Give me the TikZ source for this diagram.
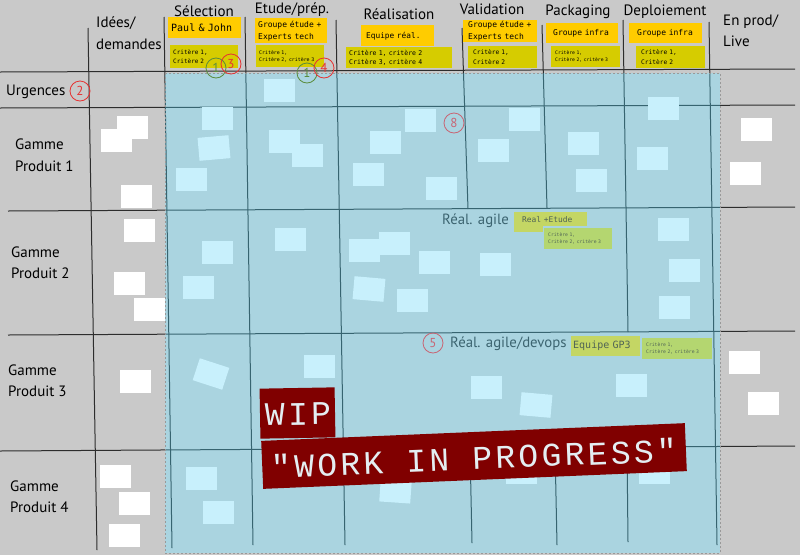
\documentclass[tikz,border=0pt]{standalone}
\usepackage{fontspec}
\setmainfont{PT Sans}
\newfontfamily\monof{DejaVu Sans Mono}
\newfontfamily\wipf[LetterSpace=10]{Liberation Mono}
\definecolor{bgc}{RGB}{201,201,201}
\definecolor{bluec}{RGB}{170,212,224}
\definecolor{cardc}{RGB}{200,240,252}
\definecolor{linec}{RGB}{45,45,45}
\definecolor{tealline}{RGB}{55,100,112}
\definecolor{orangec}{RGB}{255,204,0}
\definecolor{olivec}{RGB}{214,204,0}
\definecolor{midc}{RGB}{196,214,100}
\definecolor{critc}{RGB}{180,214,112}
\definecolor{midtext}{RGB}{80,100,85}
\definecolor{redc}{RGB}{230,50,50}
\definecolor{fadered}{RGB}{200,100,115}
\definecolor{greenc}{RGB}{90,140,60}
\definecolor{wipred}{RGB}{128,0,0}
\definecolor{wiptext}{RGB}{228,238,242}
\definecolor{tealtext}{RGB}{60,100,112}
\newcommand\gridlines{%
  \draw (0,72) -- (795,69);
  \draw (0,108) -- (795,105);
  \draw (8,211) -- (795,207);
  \draw (8,335) -- (795,331);
  \draw (0,451) -- (795,446);
  \draw (88,28) -- (97,550);
  \draw (164,17) -- (172,548);
  \draw (245,17) -- (253,545);
  \draw (336,20) -- (345,545);
  \draw (462,28) -- (468,209);
  \draw (470,449) -- (472,543);
  \draw (542,25) -- (547,208);
  \draw (555,448) -- (557,545);
  \draw (623,20) -- (628,332);
  \draw (627,447) -- (628,542);
  \draw (709,22) -- (717,545);
}
\begin{document}
\begin{tikzpicture}[x=1pt,y=-1pt,
  card/.style={fill=cardc, minimum width=31pt, minimum height=23pt, inner sep=0pt},
  wcard/.style={fill=white, minimum width=31pt, minimum height=23pt, inner sep=0pt},
  head/.style={font=\fontsize{15}{15}\selectfont, text=black, inner sep=0pt},
  side/.style={font=\fontsize{15}{21.5}\selectfont, align=left, anchor=west, inner sep=0pt, text=black},
  tag/.style={anchor=north west, inner ysep=0pt, align=left, text=black},
  num/.style={circle, draw=#1, text=#1, minimum size=20pt, inner sep=0pt, line width=0.8pt, font=\fontsize{13}{13}\selectfont},
  midlab/.style={font=\fontsize{14.8}{14.8}\selectfont, text=tealtext, anchor=west, inner sep=0pt}
]
\useasboundingbox (0,0) rectangle (800,555);
\fill[bgc] (0,0) rectangle (800,555);
% grid lines (outside)
\begin{scope}[color=linec, line width=1pt]
  \gridlines
\end{scope}
% blue WIP zone
\fill[bluec] (165,73) rectangle (720,553);
\begin{scope}
  \clip (165,73) rectangle (720,553);
  \begin{scope}[color=tealline, line width=1pt]
    \gridlines
  \end{scope}
\end{scope}
\draw[gray!80, line width=0.6pt, dash pattern=on 2pt off 2pt] (165,73) rectangle (720,553);

% column headers
\node[head] (hsel) at (204,11) {Sélection};
\node[head] (hetu) at (292,10) {Etude/prép.};
\node[head] (hrea) at (399,14) {Réalisation};
\node[head] (hval) at (492,9) {Validation};
\node[head] (hpac) at (578,12) {Packaging};
\node[head] (hdep) at (665,12) {Deploiement};
\node[side] (hide) at (96,33) {Idées/\\demandes};
\node[side] (hpro) at (723,30.5) {En prod/\\Live};
% row headers
\node[side] (rurg) at (6,92) {Urgences};
\node[side] (rg1) at (15,155) {Gamme\\Produit 1};
\node[side] (rg2) at (11,262.5) {Gamme\\Produit 2};
\node[side] (rg3) at (8,380.5) {Gamme\\Produit 3};
\node[side] (rg4) at (10,496.5) {Gamme\\Produit 4};

% header tags
\node[tag, fill=orangec, inner xsep=3pt, text width=67pt, minimum height=21pt, font=\monof\fontsize{10}{10}\selectfont] (t1) at (168,17) {\mbox{Paul \& John}};
\node[tag, fill=olivec, inner xsep=3pt, text width=62pt, minimum height=23pt, font=\monof\fontsize{6}{9.5}\selectfont] (t2) at (170,45) {Critère 1,\\Critère 2};
\node[tag, fill=orangec, inner xsep=3pt, text width=66pt, minimum height=25pt, font=\monof\fontsize{8}{12}\selectfont] (t3) at (255,18) {\mbox{Groupe étude +}\\\mbox{Experts tech}};
\node[tag, fill=olivec, inner xsep=3pt, text width=62pt, minimum height=22pt, font=\monof\fontsize{4.9}{7}\selectfont] (t4) at (256,45) {Critère 1,\\\mbox{Critère 2, critère 3}};
\node[tag, fill=orangec, inner xsep=5pt, text width=63pt, minimum height=21pt, font=\monof\fontsize{7.8}{7.8}\selectfont] (t5) at (361,25) {\mbox{Equipe réal.}};
\node[tag, fill=olivec, inner xsep=3pt, text width=100pt, minimum height=21pt, font=\monof\fontsize{6.5}{9}\selectfont] (t6) at (346,47) {\mbox{Critère 1, critère 2}\\\mbox{Critère 3, critère 4}};
\node[tag, fill=orangec, inner xsep=5pt, text width=64pt, minimum height=22pt, font=\monof\fontsize{8}{12}\selectfont] (t7) at (463,20) {\mbox{Groupe étude +}\\\mbox{Experts tech}};
\node[tag, fill=olivec, inner xsep=5pt, text width=59pt, minimum height=22pt, font=\monof\fontsize{6.2}{9.5}\selectfont] (t8) at (468,46) {Critère 1,\\Critère 2};
\node[tag, fill=orangec, inner xsep=7pt, text width=58pt, minimum height=20pt, font=\monof\fontsize{8}{8}\selectfont] (t9) at (546,23) {\mbox{Groupe infra}};
\node[tag, fill=olivec, inner xsep=4pt, text width=61pt, minimum height=21pt, font=\monof\fontsize{4.7}{7}\selectfont] (t10) at (551,46) {Critère 1,\\\mbox{Critère 2, critère 3}};
\node[tag, fill=orangec, inner xsep=8pt, text width=57pt, minimum height=20pt, font=\monof\fontsize{8}{8}\selectfont] (t11) at (629,23) {\mbox{Groupe infra}};
\node[tag, fill=olivec, inner xsep=5pt, text width=59pt, minimum height=22pt, font=\monof\fontsize{6.2}{9.5}\selectfont] (t12) at (636,46) {Critère 1,\\Critère 2};

% numbered circles
\node[num=redc] (n2) at (80,91) {2};
\node[num=greenc] (n1a) at (216,68) {1};
\node[num=redc] (n3) at (231,64) {3};
\node[num=greenc] (n1b) at (307,73) {1};
\node[num=redc] (n4) at (324,68) {4};
\node[num=fadered] (n8) at (454,123) {8};
\node[num=fadered] (n5) at (433,343) {5};

% white cards (grey zones)
\foreach \x/\y [count=\i] in {132.5/127.5, 116.5/140, 136.5/196, 139.5/230.5, 129.5/283.5, 149/309, 135.5/381.5, 115/476, 134/503.5, 124.5/535, 756.5/129.5, 745.5/173.5, 744.5/362.5, 763.5/403.5}
  \node[wcard] (w\i) at (\x,\y) {};

% light cards (WIP zone)
\foreach \x/\y/\r [count=\i] in {279.5/90/0, 663.5/108.5/0, 420/120.5/0, 524/119.5/0, 217.5/118.5/0, 214/148/5, 191.5/179.5/0, 284/141/0, 307.5/155/0, 368/174/0, 385.5/142.5/0, 441.5/188.5/0, 493.5/150.5/0, 583/143/0, 591.5/180/0, 652/158.5/0,
  217/252.5/0, 198/287/0, 290.5/239/0, 364.5/250/0, 394.5/243.5/0, 434.5/262/0, 369/289/-5, 412.5/300/0, 495.5/264/0, 673.5/229/0, 684.5/270/0, 674.5/307.5/0,
  211/374/-18, 319.5/366.5/0, 486/387.5/0, 536/405/-5, 631.5/385/0, 521/472.5/0, 654.5/472.5/0, 395.5/491/-4,
  201.5/478.5/0, 218/512.5/0}
  \node[card, rotate=\r] (c\i) at (\x,\y) {};

% swimlane labels
\node[midlab] (ra) at (442,221) {Réal. agile};
\fill[midc] (514,212) rectangle (543,232);
\node[tag, fill=midc, text=midtext, inner xsep=8pt, text width=57pt, minimum height=14pt, font=\monof\fontsize{7.9}{7.9}\selectfont] (t13) at (514,212) {\mbox{Real +Etude}};
\node[tag, fill=critc, text=midtext, inner xsep=4pt, text width=60pt, minimum height=21pt, font=\monof\fontsize{4.7}{7}\selectfont] (t14) at (544,228) {Critère 1,\\\mbox{Critère 2, critère 3}};
\node[midlab] (rd) at (450,344) {Réal. agile/devops};
\node[tag, fill=midc, text=midtext, inner xsep=2pt, text width=65pt, minimum height=20pt, font=\monof\fontsize{10}{10}\selectfont] (t15) at (571,336) {\mbox{Equipe GP3}};
\node[tag, fill=critc, text=midtext, inner xsep=4pt, text width=62pt, minimum height=21pt, font=\monof\fontsize{4.7}{7}\selectfont] (t16) at (642,338) {Critère 1,\\\mbox{Critère 2, critère 3}};

% WIP banner
\node[fill=wipred, rotate=1, minimum width=75pt, minimum height=50pt, inner sep=0pt] (wipbox) at (297.5,413) {};
\node[text=wiptext, rotate=1, font=\wipf\fontsize{33}{33}\selectfont, inner sep=0pt] (wiptxt) at (298,414) {WIP};
\node[fill=wipred, rotate=2.4, minimum width=424pt, minimum height=48pt, inner sep=0pt] (wipban) at (474,456) {};
\node[text=wiptext, rotate=2.4, font=\wipf\fontsize{33}{33}\selectfont, inner sep=0pt] (wipbtxt) at (474,458) {"WORK IN PROGRESS"};
\end{tikzpicture}
\end{document}
